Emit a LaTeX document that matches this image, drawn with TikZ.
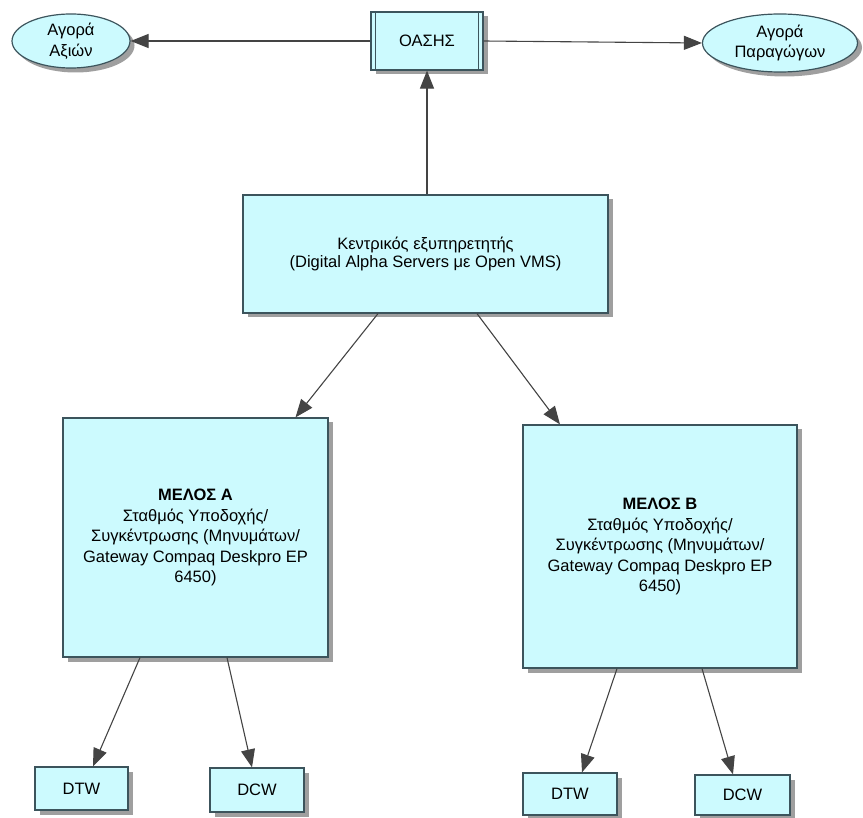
\documentclass[tikz,border=0pt]{standalone}
\usepackage{fontspec}
\setmainfont{Liberation Sans}
\usepackage{tikz}
\usetikzlibrary{arrows.meta,positioning,shapes.geometric,shadows,calc}
\definecolor{boxfill}{RGB}{204,250,254}
\definecolor{boxedge}{RGB}{60,84,92}
\definecolor{arrowgray}{RGB}{68,68,68}
\tikzset{
  mybox/.style = {rectangle, draw=boxedge, line width=1.2pt, fill=boxfill, align=center, inner sep=2pt,
    font=\fontsize{16.5}{20.5}\selectfont,
    drop shadow={shadow xshift=4.5pt, shadow yshift=-4.5pt, fill=gray!75, opacity=1}},
  myoval/.style = {mybox, ellipse, inner sep=0pt},
  myarrow/.style = {-{Triangle[length=18pt,width=14pt]}, draw=arrowgray, line width=1.1pt},
}
\begin{document}
\begin{tikzpicture}[x=1pt,y=-1pt]
\useasboundingbox (0,0) rectangle (863,818);

\node (oasis) [mybox, minimum width=112pt, minimum height=58pt] at (427,41) {ΟΑΣΗΣ};
\draw[boxedge, line width=1.1pt] ([xshift=5pt]oasis.north west) -- ([xshift=5pt]oasis.south west);
\draw[boxedge, line width=1.1pt] ([xshift=-5pt]oasis.north east) -- ([xshift=-5pt]oasis.south east);
\node (axion) [myoval, minimum width=118pt, minimum height=54pt] at (71,41) {Αγορά\\Αξιών};
\node (paragogon) [myoval, minimum width=155pt, minimum height=58pt] at (780,43) {Αγορά\\Παραγώγων};

\node (kentriko) [mybox, minimum width=365pt, minimum height=118pt, font=\fontsize{16.5}{17.5}\selectfont] at (425.5,254)
  {Κεντρικός εξυπηρετητής\\(Digital Alpha Servers με Open VMS)};

\node (melosA) [mybox, minimum width=265pt, minimum height=239pt] at (195.5,537.5)
  {\textbf{ΜΕΛΟΣ Α}\\Σταθμός Υποδοχής/\\Συγκέντρωσης (Μηνυμάτων/\\Gateway Compaq Deskpro EP\\6450)};
\node (melosB) [mybox, minimum width=274pt, minimum height=243pt] at (660,546.5)
  {\textbf{ΜΕΛΟΣ Β}\\Σταθμός Υποδοχής/\\Συγκέντρωσης (Μηνυμάτων/\\Gateway Compaq Deskpro EP\\6450)};

\node (dtwA) [mybox, minimum width=93pt, minimum height=43pt] at (81.5,788.5) {DTW};
\node (dcwA) [mybox, minimum width=94pt, minimum height=44pt] at (257,790) {DCW};
\node (dtwB) [mybox, minimum width=94pt, minimum height=42pt] at (570,794) {DTW};
\node (dcwB) [mybox, minimum width=95pt, minimum height=40pt] at (742.5,795) {DCW};

\draw[myarrow] (oasis) -- (axion);
\draw[myarrow] (oasis.east) -- (paragogon.west);
\draw[myarrow] (kentriko.north -| oasis.south) -- (oasis.south);

\foreach \u/\su/\v/\sv in {kentriko/-47.5/melosA/100, kentriko/51.5/melosB/-100,
    melosA/-55.5/dtwA/11.5, melosA/31.5/dcwA/-5,
    melosB/-43/dtwB/12, melosB/42/dcwB/-9.5}{
  \draw[myarrow] ([xshift=\su pt]\u.south) -- ([xshift=\sv pt]\v.north);
}
\end{tikzpicture}
\end{document}
